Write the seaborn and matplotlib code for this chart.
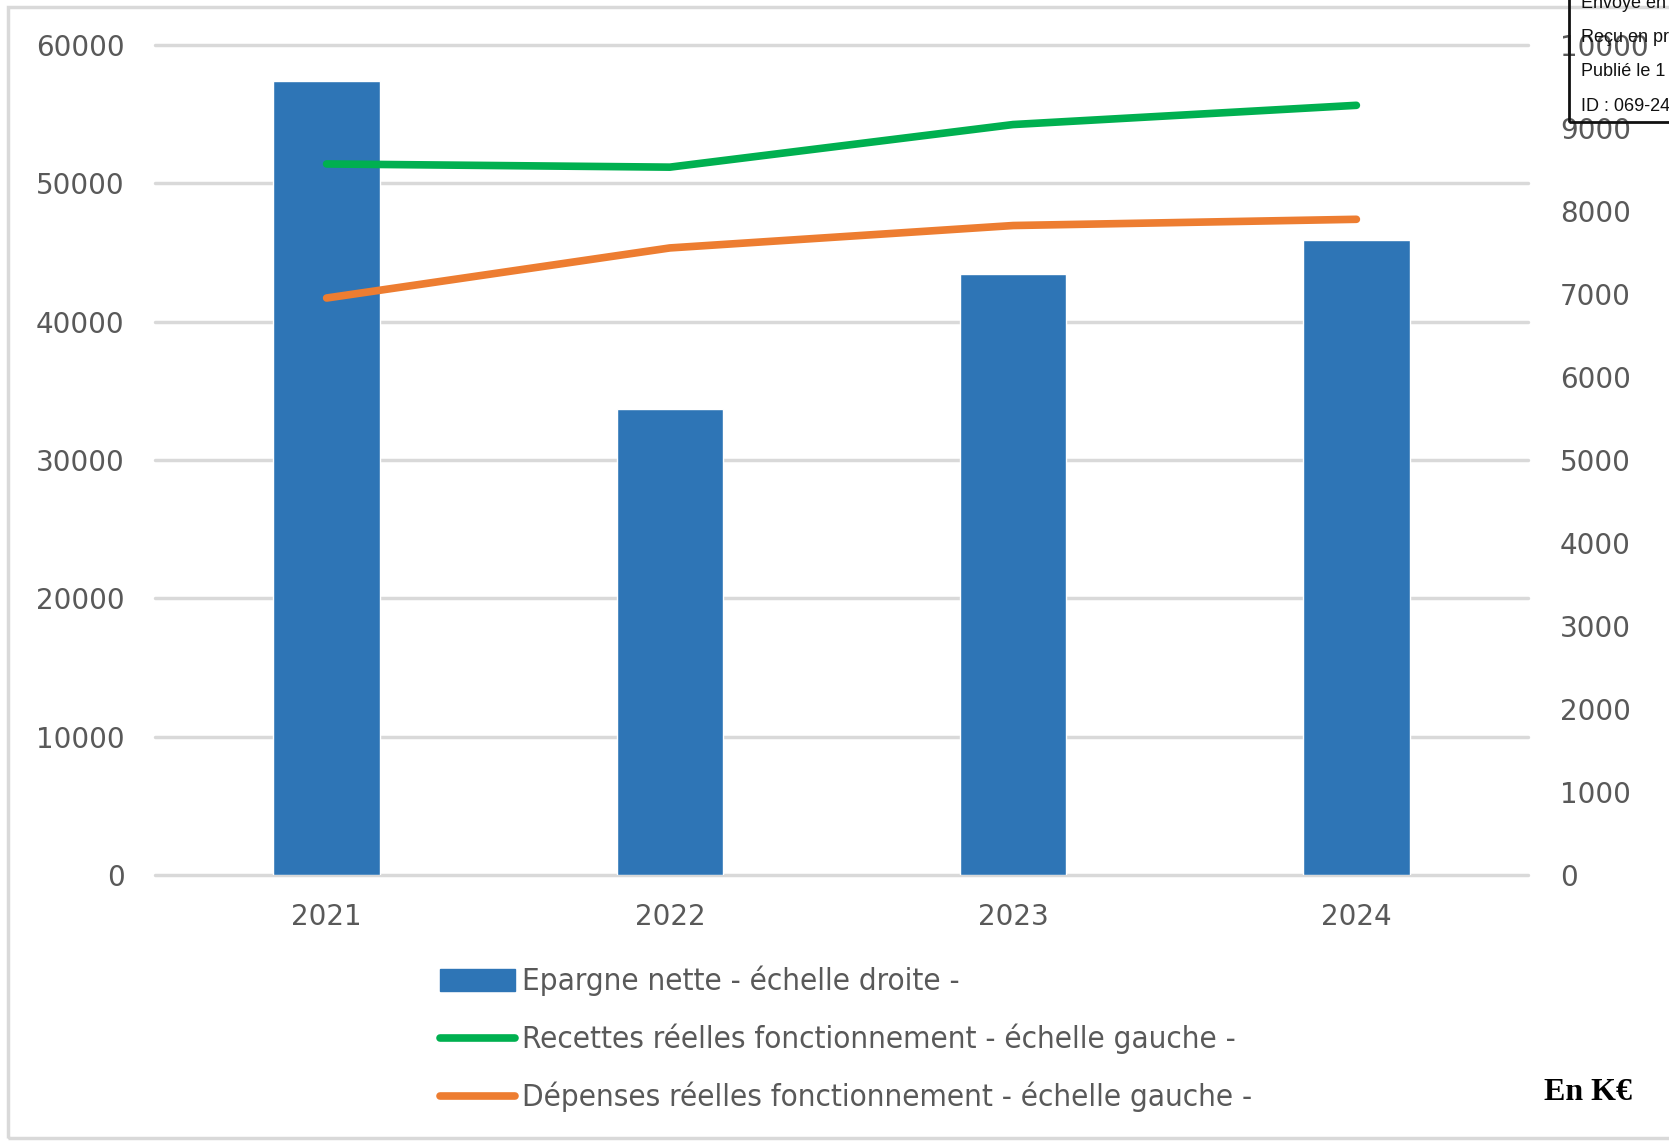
import numpy as np
import pandas as pd
import matplotlib
matplotlib.use("Agg")
import matplotlib.pyplot as plt
from matplotlib.patches import Patch, Rectangle
from matplotlib.lines import Line2D
from matplotlib.font_manager import FontProperties
import seaborn as sns

years = ["2021", "2022", "2023", "2024"]
epargne_nette = [9565, 5620, 7235, 7645]
recettes = [51400, 51170, 54250, 55640]
depenses = [41710, 45330, 46950, 47400]
left_ticks = [0, 10000, 20000, 30000, 40000, 50000, 60000]
right_ticks = [0, 1000, 2000, 3000, 4000, 5000, 6000, 7000, 8000, 9000, 10000]
labels = ["Epargne nette - échelle droite -",
          "Recettes réelles fonctionnement - échelle gauche -",
          "Dépenses réelles fonctionnement - échelle gauche -"]
stamp_lines = ["Envoyé en", "Reçu en pr", "Publié le 1", "ID : 069-24"]

sns.set_theme(style="white")
plt.rcParams['font.family'] = ['DejaVu Sans']

BLUE = "#2E75B6"
GREEN = "#00B050"
ORANGE = "#ED7D31"
GREY_TXT = "#595959"
GRID = "#D9D9D9"

W, H = 1669, 1141
fig = plt.figure(figsize=(W / 100, H / 100), dpi=100)
ax_bar = fig.add_axes([155 / W, 1 - 875 / H, (1528 - 155) / W, (875 - 45) / H])
ax_line = ax_bar.twinx()

df = pd.DataFrame({"year": years, "epargne": epargne_nette})
sns.barplot(data=df, x="year", y="epargne", ax=ax_bar, color=BLUE,
            saturation=1, width=0.31, zorder=3)
pos = np.arange(len(years))
sns.lineplot(x=pos, y=recettes, ax=ax_line, color=GREEN, linewidth=5.5,
             solid_capstyle="round")
sns.lineplot(x=pos, y=depenses, ax=ax_line, color=ORANGE, linewidth=5.5,
             solid_capstyle="round")

ax_line.set_zorder(ax_bar.get_zorder() + 1)
ax_line.patch.set_visible(False)

ax_bar.set_xlim(-0.5, len(years) - 0.5)
ax_bar.set_ylim(0, 10000)
ax_line.set_ylim(0, 60000)

# ticks
ax_bar.yaxis.tick_right()
ax_line.yaxis.tick_left()
ax_bar.set_yticks(right_ticks)
ax_bar.set_yticklabels([str(t) for t in right_ticks])
ax_line.set_yticks(left_ticks)
ax_line.set_yticklabels([str(t) for t in left_ticks])
ax_bar.grid(False)
ax_line.grid(False)
# gridlines aligned with the left scale, drawn behind the bars
for t in left_ticks:
    ax_bar.axhline(t / 6, color=GRID, linewidth=2.5, zorder=0, clip_on=False)

for a in (ax_bar, ax_line):
    for s in a.spines.values():
        s.set_visible(False)
    a.set_xlabel("")
    a.set_ylabel("")
    a.tick_params(axis="both", which="both", length=0, labelsize=20,
                  labelcolor=GREY_TXT)
ax_bar.tick_params(axis="y", pad=23)
ax_line.tick_params(axis="y", pad=22)
ax_bar.tick_params(axis="x", pad=20)
ax_line.tick_params(axis="x", labelbottom=False)

# legend
handles = [Patch(facecolor=BLUE, edgecolor=BLUE),
           Line2D([0], [0], color=GREEN, linewidth=5.5, solid_capstyle="round"),
           Line2D([0], [0], color=ORANGE, linewidth=5.5, solid_capstyle="round")]
leg_font = FontProperties(family="DejaVu Sans", stretch="condensed", size=22.5)
leg = fig.legend(handles, labels, loc="upper left",
                 bbox_to_anchor=(440 / W, 1 - 966 / H), frameon=False,
                 handlelength=2.4, handletextpad=0.22, labelspacing=0.88,
                 prop=leg_font, borderaxespad=0, borderpad=0)
for t in leg.get_texts():
    t.set_color(GREY_TXT)

fig.text(1632 / W, 1 - 1093 / H, "En K€", ha="right", va="center",
         fontsize=23, fontweight="bold", family=["Liberation Serif", "DejaVu Serif"],
         color="black")

# outer border
fig.patches.append(Rectangle((8 / W, 3 / H), 1.2, 1 - 10 / H, transform=fig.transFigure,
                             fill=False, edgecolor="#D9D9D9", linewidth=2.5))
# stamp box
fig.patches.append(Rectangle((1569 / W, 1 - 122 / H), 0.2, 0.2, transform=fig.transFigure,
                             fill=False, edgecolor="#111111", linewidth=2))
for i, s in enumerate(stamp_lines):
    fig.text(1581 / W, 1 - (3 + 34.5 * i) / H, s, ha="left", va="center", fontsize=13,
             family=["Liberation Sans", "DejaVu Sans"], color="#111111")

fig.savefig("out.png", dpi=100)
